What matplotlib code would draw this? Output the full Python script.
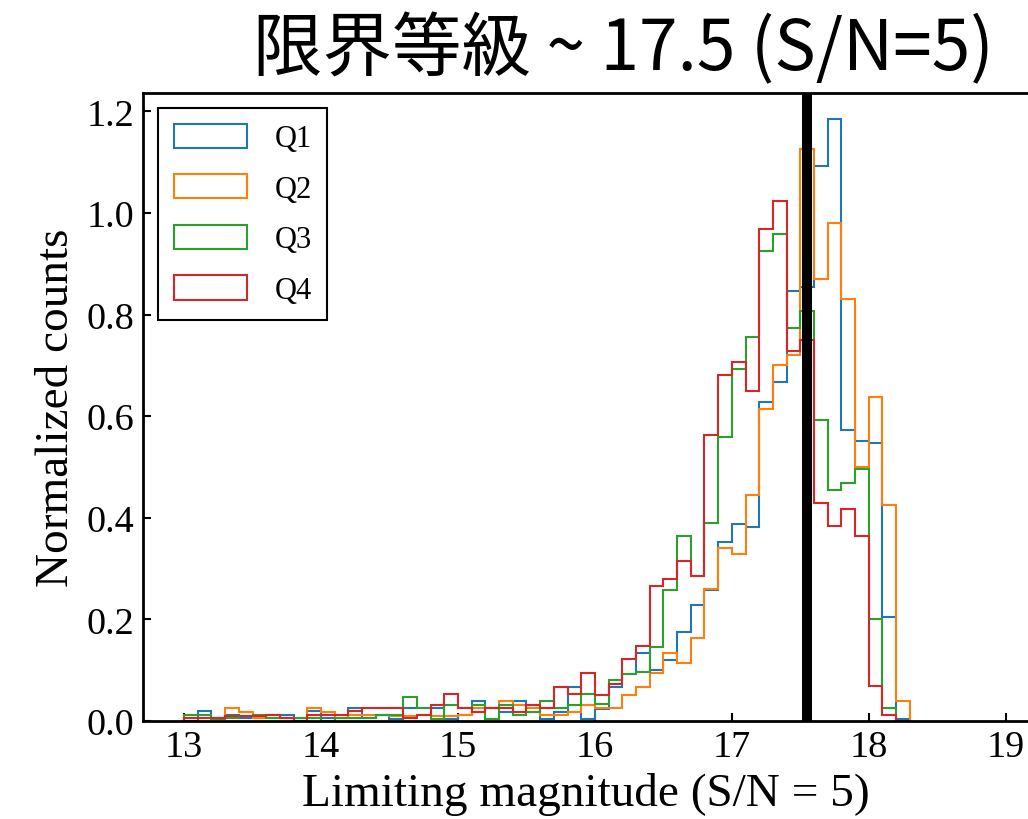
import matplotlib
matplotlib.use("Agg")
import matplotlib.pyplot as plt
import numpy as np

# ---------------------------------------------------------------------------
# Data: normalized counts per 0.1 mag bin, 13.0 -> 18.3
# ---------------------------------------------------------------------------
bin_edges = np.round(np.arange(13.0, 18.31, 0.1), 2)

q1 = [0.000, 0.019, 0.005, 0.012, 0.005, 0.005, 0.012, 0.012, 0.000, 0.019,
      0.005, 0.005, 0.026, 0.005, 0.012, 0.004, 0.025, 0.025, 0.025, 0.004,
      0.012, 0.039, 0.025, 0.018, 0.039, 0.025, 0.004, 0.018, 0.066, 0.004,
      0.023, 0.066, 0.093, 0.134, 0.101, 0.121, 0.176, 0.229, 0.258, 0.353,
      0.388, 0.381, 0.627, 0.668, 0.847, 0.854, 1.093, 1.184, 0.573, 0.552,
      0.547, 0.204, 0.004]
q2 = [0.005, 0.005, 0.005, 0.026, 0.018, 0.005, 0.005, 0.005, 0.005, 0.026,
      0.018, 0.005, 0.012, 0.012, 0.012, 0.010, 0.010, 0.012, 0.010, 0.010,
      0.012, 0.025, 0.025, 0.039, 0.031, 0.025, 0.012, 0.012, 0.018, 0.031,
      0.025, 0.025, 0.051, 0.066, 0.094, 0.134, 0.114, 0.163, 0.260, 0.341,
      0.329, 0.445, 0.615, 0.700, 0.721, 1.126, 0.870, 0.980, 0.831, 0.499,
      0.637, 0.425, 0.039]
q3 = [0.012, 0.012, 0.003, 0.005, 0.010, 0.012, 0.005, 0.005, 0.005, 0.005,
      0.000, 0.005, 0.005, 0.005, 0.012, 0.012, 0.047, 0.025, 0.004, 0.032,
      0.025, 0.031, 0.004, 0.031, 0.012, 0.018, 0.039, 0.025, 0.031, 0.053,
      0.033, 0.081, 0.093, 0.096, 0.145, 0.257, 0.364, 0.286, 0.390, 0.558,
      0.693, 0.755, 0.925, 0.959, 0.774, 0.806, 0.593, 0.455, 0.468, 0.496,
      0.200, 0.026, 0.000]
q4 = [0.005, 0.005, 0.005, 0.010, 0.010, 0.010, 0.012, 0.005, 0.000, 0.012,
      0.012, 0.012, 0.019, 0.026, 0.026, 0.025, 0.005, 0.012, 0.031, 0.053,
      0.025, 0.018, 0.025, 0.025, 0.018, 0.031, 0.025, 0.066, 0.053, 0.094,
      0.052, 0.073, 0.122, 0.148, 0.265, 0.280, 0.314, 0.286, 0.563, 0.680,
      0.707, 0.650, 0.968, 1.024, 0.729, 0.749, 0.430, 0.383, 0.418, 0.364,
      0.068, 0.012, 0.000]

series = [q1, q2, q3, q4]
labels = ["Q1", "Q2", "Q3", "Q4"]
colors = ["#1f77b4", "#ff7f0e", "#2ca02c", "#d62728"]

limit_mag = 17.55
x_ticks = [13, 14, 15, 16, 17, 18, 19]
y_ticks = [0.0, 0.2, 0.4, 0.6, 0.8, 1.0, 1.2]

SERIF = ["Liberation Serif", "DejaVu Serif"]
plt.rcParams["font.family"] = SERIF
plt.rcParams["mathtext.fontset"] = "stix"

fig = plt.figure(figsize=(10.28, 8.2), dpi=100)
ax = fig.add_axes([0.1391, 0.1195, 0.8619, 0.7659])

centers = (bin_edges[:-1] + bin_edges[1:]) / 2
for vals, lab, col in zip(series, labels, colors):
    ax.hist(centers, bins=bin_edges, weights=vals, histtype="step",
            color=col, linewidth=1.5, label=lab)

# limiting-magnitude marker
ax.axvline(limit_mag, color="black", linewidth=7.2, zorder=5)

ax.set_xlim(12.70, 19.17)
ax.set_ylim(0, 1.236)
ax.set_xticks(x_ticks)
ax.set_yticks(y_ticks)
ax.set_yticklabels([f"{v:.1f}" for v in y_ticks])
ax.tick_params(direction="in", length=6, width=1.5, labelsize=27.5, pad=6)
for spine in ax.spines.values():
    spine.set_linewidth(2)

ax.set_xlabel("Limiting magnitude (S/N = 5)", fontsize=34, labelpad=6)
ax.set_ylabel("Normalized counts", fontsize=34, labelpad=6)

leg = ax.legend(loc="upper left", fontsize=22, frameon=True, fancybox=False,
                edgecolor="black", framealpha=1, handlelength=2.4,
                handleheight=0.85, handletextpad=0.9, labelspacing=0.68,
                borderpad=0.5, borderaxespad=0.5)
leg.get_frame().set_linewidth(1.5)

fig.text(623 / 1028, 1 - 50 / 820, "限界等級 ~ 17.5 (S/N=5)",
         ha="center", va="center", fontsize=50,
         family=["Noto Sans CJK JP", "DejaVu Sans"])

fig.savefig("out.png", dpi=100)
